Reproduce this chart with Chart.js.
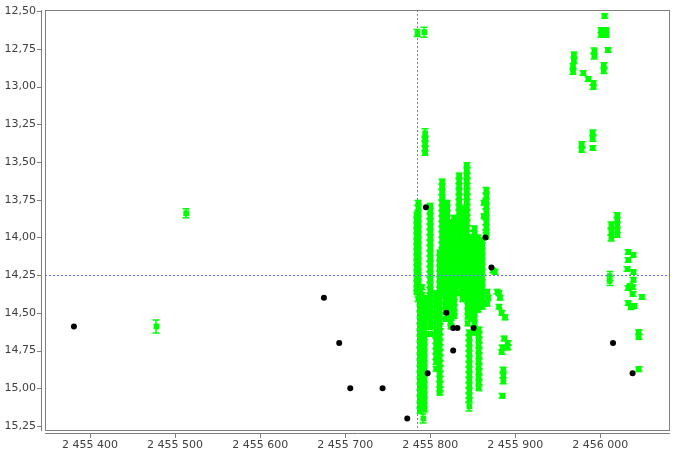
<!DOCTYPE html>
<html>
<head>
<meta charset="utf-8">
<script src="https://cdn.jsdelivr.net/npm/chart.js@4.4.1/dist/chart.umd.min.js"></script>
<style>
  html, body { margin: 0; padding: 0; background: #fff; }
</style>
</head>
<body>
<canvas id="lc" width="677" height="454"></canvas>
<script>
// black points, no error bars
const blackJD = [2455381, 2455675, 2455693, 2455706, 2455744, 2455773, 2455795, 2455797, 2455819,
  2455827, 2455832, 2455827, 2455851, 2455865, 2455872, 2456015, 2456038]
const blackMag = [14.59, 14.40, 14.70, 15.00, 15.00, 15.20, 13.80, 14.90, 14.50,
  14.60, 14.60, 14.75, 14.60, 14.00, 14.20, 14.70, 14.90]

// green observations, one row per night: [JD, error, mag, mag, ...]
const greenNights = [
  [2455478, 0.043, 14.59],
  [2455513, 0.030, 13.84],
  [2455785, 0.023, 12.646],
  [2455793, 0.033, 12.64],
  [2455794, 0.030, 13.31],
  [2455794, 0.015, 13.345, 13.38, 13.41, 13.44],
  [2455784, 0.015, 13.85, 13.885, 13.92, 13.955, 13.99, 14.025, 14.06, 14.095, 14.13, 14.165, 14.20, 14.235, 14.27, 14.305, 14.34, 14.36],
  [2455786, 0.015, 13.77, 13.805, 13.84, 13.875, 13.91, 13.945, 13.98, 14.015, 14.05, 14.085, 14.12, 14.155, 14.19, 14.225, 14.26, 14.295, 14.33, 14.365, 14.41],
  [2455788, 0.015, 14.35, 14.39, 14.43, 14.47, 14.51, 14.55, 14.59, 14.63, 14.67, 14.71, 14.75, 14.79, 14.83, 14.87, 14.91, 14.95, 14.99, 15.03, 15.07, 15.11, 15.15],
  [2455792, 0.030, 15.20],
  [2455790, 0.015, 14.33, 14.38, 14.43, 14.48, 14.53, 14.58, 14.63, 14.68, 14.73, 14.78, 14.83, 14.88, 14.93, 14.98, 15.03, 15.08, 15.13],
  [2455793, 0.015, 14.45, 14.485, 14.52, 14.555, 14.59, 14.625, 14.66, 14.695, 14.73, 14.765, 14.80, 14.835, 14.87, 14.905, 14.94, 14.975, 15.01, 15.045, 15.08, 15.115, 15.14],
  [2455796, 0.015, 14.40, 14.44, 14.48, 14.52],
  [2455798, 0.015, 14.44, 14.50],
  [2455800, 0.015, 13.79, 13.825, 13.86, 13.895, 13.93, 13.965, 14.00, 14.035, 14.07, 14.105, 14.14, 14.175, 14.21, 14.245, 14.28, 14.315, 14.35, 14.385, 14.42, 14.455, 14.49, 14.525, 14.56, 14.595, 14.64],
  [2455807, 0.015, 14.37, 14.405, 14.44, 14.475, 14.51, 14.545, 14.58, 14.615, 14.65, 14.685, 14.72, 14.755, 14.79, 14.825, 14.87],
  [2455811, 0.015, 14.10, 14.135, 14.17, 14.205, 14.24, 14.275, 14.31, 14.345, 14.38, 14.415, 14.45, 14.485, 14.52, 14.555, 14.59, 14.625, 14.66, 14.695, 14.73, 14.765, 14.80, 14.835, 14.87, 14.905, 14.94, 14.975, 15.01, 15.03],
  [2455814, 0.015, 13.63, 13.665, 13.70, 13.735, 13.77, 13.805, 13.84, 13.875, 13.91, 13.945, 13.98, 14.015, 14.05, 14.085, 14.12, 14.155, 14.19, 14.225, 14.26, 14.295, 14.33, 14.37],
  [2455818, 0.015, 14.04, 14.075, 14.11, 14.145, 14.18, 14.215, 14.25, 14.285, 14.32, 14.355, 14.39, 14.425, 14.46, 14.495, 14.54],
  [2455820, 0.015, 13.77, 13.805, 13.84, 13.875, 13.91, 13.945, 13.98, 14.015, 14.05, 14.085, 14.12, 14.155, 14.19, 14.22],
  [2455824, 0.015, 13.90, 13.935, 13.97, 14.005, 14.04, 14.075, 14.11, 14.145, 14.18, 14.215, 14.25, 14.285, 14.32, 14.355, 14.39, 14.425, 14.46, 14.495, 14.53, 14.565, 14.59],
  [2455828, 0.015, 13.87, 13.905, 13.94, 13.975, 14.01, 14.045, 14.08, 14.115, 14.15, 14.185, 14.22, 14.255, 14.29, 14.325, 14.36, 14.395, 14.43, 14.465, 14.50, 14.52],
  [2455834, 0.015, 13.59, 13.625, 13.66, 13.695, 13.73, 13.765, 13.80, 13.835, 13.87, 13.905, 13.94, 13.975, 14.01, 14.045, 14.08, 14.115, 14.15, 14.185, 14.22, 14.255, 14.29, 14.325, 14.37],
  [2455838, 0.015, 13.81, 13.845, 13.88, 13.915, 13.95, 13.985, 14.02, 14.055, 14.09, 14.125, 14.16, 14.195, 14.23, 14.265, 14.30, 14.335, 14.37, 14.41],
  [2455843, 0.015, 13.52, 13.555, 13.59, 13.625, 13.66, 13.695, 13.73, 13.765, 13.80, 13.835, 13.87, 13.905, 13.94, 13.975, 14.01, 14.045, 14.08, 14.115, 14.15, 14.17],
  [2455844, 0.015, 14.00, 14.035, 14.07, 14.105, 14.14, 14.175, 14.21, 14.245, 14.28, 14.315, 14.35, 14.385, 14.42, 14.455, 14.49, 14.525, 14.57],
  [2455846, 0.015, 14.63, 14.665, 14.70, 14.735, 14.77, 14.805, 14.84, 14.875, 14.91, 14.945, 14.98, 15.015, 15.05, 15.08],
  [2455846, 0.030, 15.12],
  [2455848, 0.015, 14.00, 14.035, 14.07, 14.105, 14.14, 14.175, 14.21, 14.245, 14.28, 14.315, 14.35, 14.385, 14.42, 14.455, 14.49, 14.54],
  [2455852, 0.015, 13.94, 13.975, 14.01, 14.045, 14.08, 14.115, 14.15, 14.185, 14.22, 14.255, 14.29, 14.325, 14.36, 14.395, 14.43, 14.465, 14.50, 14.535, 14.57, 14.605, 14.63],
  [2455856, 0.015, 14.00, 14.035, 14.07, 14.105, 14.14, 14.175, 14.21, 14.245, 14.28, 14.315, 14.35, 14.385, 14.42, 14.455, 14.48],
  [2455857, 0.015, 14.61, 14.645, 14.68, 14.715, 14.75, 14.785, 14.82, 14.855, 14.89, 14.925, 14.96, 15.00],
  [2455861, 0.015, 14.02, 14.055, 14.09, 14.125, 14.16, 14.195, 14.23, 14.265, 14.30, 14.335, 14.37, 14.405, 14.44, 14.46],
  [2455866, 0.020, 13.69, 13.725, 13.76, 13.795, 13.83, 13.865, 13.90, 13.935, 13.97, 13.99],
  [2455863, 0.015, 13.77, 13.86],
  [2455867, 0.015, 14.36, 14.44],
  [2455868, 0.015, 14.40],
  [2455874, 0.015, 14.22],
  [2455876, 0.015, 14.23],
  [2455879, 0.015, 14.36],
  [2455881, 0.015, 14.37, 14.46],
  [2455882, 0.015, 14.40],
  [2455884, 0.015, 14.50, 14.76],
  [2455888, 0.015, 14.53],
  [2455887, 0.015, 14.67],
  [2455891, 0.015, 14.70, 14.73],
  [2455885, 0.015, 14.73],
  [2455886, 0.020, 14.88, 14.91, 14.95],
  [2455885, 0.015, 15.05],
  [2456005, 0.015, 12.533],
  [2456001, 0.015, 12.626, 12.659],
  [2456007, 0.015, 12.626, 12.659],
  [2456009, 0.015, 12.758],
  [2455993, 0.020, 12.765, 12.798],
  [2456004, 0.015, 12.858, 12.898],
  [2455969, 0.020, 12.792, 12.825],
  [2455968, 0.015, 12.864, 12.904],
  [2455980, 0.015, 12.911],
  [2455986, 0.015, 12.951],
  [2455992, 0.015, 12.977, 13.004],
  [2455991, 0.020, 13.308, 13.342],
  [2455978, 0.015, 13.381, 13.421],
  [2455991, 0.015, 13.408],
  [2456020, 0.015, 13.852, 13.885, 13.918, 13.951, 13.984],
  [2456013, 0.020, 13.918, 13.964, 14.004],
  [2456033, 0.015, 14.097, 14.150],
  [2456039, 0.015, 14.117],
  [2456032, 0.015, 14.21],
  [2456011, 0.030, 14.256, 14.289],
  [2456039, 0.015, 14.23, 14.28],
  [2456035, 0.015, 14.323],
  [2456038, 0.015, 14.33, 14.375],
  [2456033, 0.015, 14.336, 14.435],
  [2456049, 0.015, 14.395],
  [2456040, 0.015, 14.455],
  [2456036, 0.015, 14.462],
  [2456045, 0.015, 14.627, 14.66],
  [2456045, 0.015, 14.873]
]

const xTicks = [2455400, 2455500, 2455600, 2455700, 2455800, 2455900, 2456000]
const yTicks = [12.5, 12.75, 13, 13.25, 13.5, 13.75, 14, 14.25, 14.5, 14.75, 15, 15.25]
const markerJD = 2455785
const markerMag = 14.25

const green = '#00ff00'
const axisGray = '#808080'
const labelFont = { family: 'DejaVu Sans', size: 11 }

const blackPoints = blackJD.map((jd, i) => ({ x: jd, y: blackMag[i] }))
const greenPoints = []
greenNights.forEach(row => {
  for (let i = 2; i < row.length; i++) {
    greenPoints.push({ x: row[0], y: row[i], err: row[1] })
  }
})

function fmtJD(v) {
  return String(v).replace(/\B(?=(\d{3})+(?!\d))/g, ' ')
}

// error bars under the green markers
const errorBars = {
  id: 'errorBars',
  beforeDatasetsDraw(chart) {
    const { ctx, chartArea } = chart
    const xs = chart.scales.x
    const ys = chart.scales.y
    ctx.save()
    ctx.beginPath()
    ctx.rect(chartArea.left, chartArea.top, chartArea.width, chartArea.height)
    ctx.clip()
    ctx.strokeStyle = green
    ctx.lineWidth = 1.5
    greenPoints.forEach(p => {
      const px = Math.round(xs.getPixelForValue(p.x))
      const y1 = ys.getPixelForValue(p.y - p.err)
      const y2 = ys.getPixelForValue(p.y + p.err)
      ctx.beginPath()
      ctx.moveTo(px, y1)
      ctx.lineTo(px, y2)
      ctx.moveTo(px - 3.5, y1)
      ctx.lineTo(px + 3.5, y1)
      ctx.moveTo(px - 3.5, y2)
      ctx.lineTo(px + 3.5, y2)
      ctx.stroke()
    })
    ctx.restore()
  }
}

// dashed marker lines, frame and offset axes
const frame = {
  id: 'frame',
  afterDatasetsDraw(chart) {
    const { ctx, chartArea } = chart
    const { left, right, top, bottom } = chartArea
    const xs = chart.scales.x
    const ys = chart.scales.y
    ctx.save()
    ctx.lineWidth = 1
    ctx.setLineDash([2, 2])
    const hy = Math.round(ys.getPixelForValue(markerMag)) + 0.5
    ctx.strokeStyle = '#6b6bff'
    ctx.beginPath()
    ctx.moveTo(left, hy)
    ctx.lineTo(right, hy)
    ctx.stroke()
    const vx = Math.round(xs.getPixelForValue(markerJD)) + 0.5
    ctx.strokeStyle = '#8080b0'
    ctx.beginPath()
    ctx.moveTo(vx, top)
    ctx.lineTo(vx, bottom)
    ctx.stroke()
    ctx.setLineDash([])

    ctx.strokeStyle = axisGray
    ctx.strokeRect(left + 0.5, top + 0.5, right - left - 1, bottom - top - 1)

    // y axis, a few px left of the frame
    ctx.beginPath()
    ctx.moveTo(left - 3.5, top)
    ctx.lineTo(left - 3.5, bottom)
    yTicks.forEach(v => {
      const py = Math.round(ys.getPixelForValue(v)) + 0.5
      ctx.moveTo(left - 8, py)
      ctx.lineTo(left - 3.5, py)
    })
    // x axis, a few px below the frame
    ctx.moveTo(left, bottom + 2.5)
    ctx.lineTo(right, bottom + 2.5)
    xTicks.forEach(v => {
      const px = Math.round(xs.getPixelForValue(v)) + 0.5
      ctx.moveTo(px, bottom + 2.5)
      ctx.lineTo(px, bottom + 7)
    })
    ctx.stroke()
    ctx.restore()
  }
}

const ctx = document.getElementById('lc').getContext('2d')
new Chart(ctx, {
  type: 'scatter',
  data: {
    datasets: [
      {
        data: blackPoints,
        backgroundColor: '#000',
        borderWidth: 0,
        pointStyle: 'circle',
        pointRadius: 3
      },
      {
        data: greenPoints,
        backgroundColor: green,
        borderWidth: 0,
        pointStyle: 'rect',
        pointRadius: 4
      }
    ]
  },
  options: {
    responsive: false,
    devicePixelRatio: 1,
    animation: false,
    layout: { padding: { top: 10, right: 7, left: 0, bottom: 0 } },
    plugins: { legend: { display: false }, tooltip: { enabled: false } },
    scales: {
      x: {
        type: 'linear',
        min: 2455347,
        max: 2456082,
        grid: { display: false, drawTicks: false },
        border: { display: false },
        afterBuildTicks: s => { s.ticks = xTicks.map(v => ({ value: v })) },
        afterFit: s => { s.height = 23; s.paddingLeft = 0; s.paddingRight = 0 },
        ticks: {
          padding: 8,
          color: '#404040',
          font: labelFont,
          maxRotation: 0,
          callback: v => fmtJD(v)
        }
      },
      y: {
        type: 'linear',
        reverse: true,
        min: 12.493,
        max: 15.283,
        grid: { display: false, drawTicks: false },
        border: { display: false },
        afterBuildTicks: s => { s.ticks = yTicks.map(v => ({ value: v })) },
        afterFit: s => { s.width = 45; s.paddingTop = 0; s.paddingBottom = 0 },
        ticks: {
          padding: 9,
          color: '#404040',
          font: labelFont,
          callback: v => v.toFixed(2).replace('.', ',')
        }
      }
    }
  },
  plugins: [errorBars, frame]
})
</script>
</body>
</html>
